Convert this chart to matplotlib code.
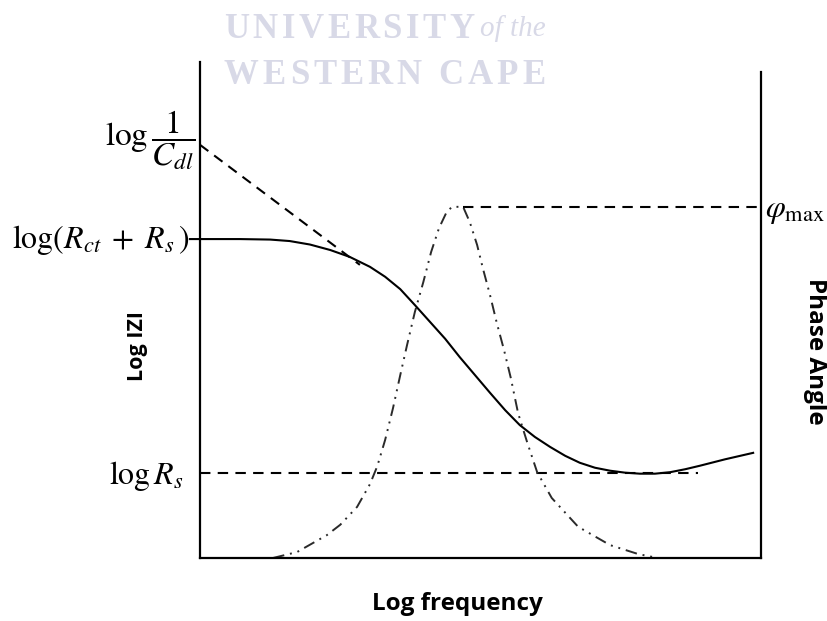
import matplotlib
matplotlib.use("Agg")
import matplotlib.pyplot as plt

plt.rcParams["mathtext.fontset"] = "stix"

# ── Schematic Bode curves (axis units 0-100 on both axes) ─────────────────────
mag_x = [-1.8, 7.1, 12.5, 16.0, 19.6, 23.2, 26.7, 30.3, 33.0, 35.7, 38.3,
         41.0, 43.7, 46.3, 49.0, 51.7, 54.4, 57.0, 59.7, 62.4, 65.1, 67.7,
         70.4, 73.1, 75.8, 78.4, 81.1, 83.8, 86.5, 89.1, 93.6, 98.6]
mag_y = [64.3, 64.3, 64.2, 63.9, 63.2, 62.1, 60.7, 58.7, 56.7, 54.2, 51.0,
         47.6, 44.2, 40.5, 36.9, 33.3, 29.8, 26.8, 24.4, 22.4, 20.6, 19.2,
         18.2, 17.6, 17.2, 17.0, 17.0, 17.3, 17.9, 18.6, 19.9, 21.2]

phase_x = [13.0, 17.3, 20.1, 22.6, 25.0, 28.0, 30.3, 31.6, 33.0, 34.4, 35.7,
           36.9, 38.3, 39.8, 41.2, 42.6, 43.9, 44.9, 46.9, 48.1, 49.4, 50.4,
           51.7, 52.9, 54.2, 55.4, 56.7, 58.3, 60.1, 62.7, 67.4, 73.1, 78.1,
           81.6]
phase_y = [0.0, 1.2, 3.0, 4.6, 6.7, 10.3, 14.9, 18.5, 23.8, 30.2, 36.9,
           42.9, 49.6, 55.6, 61.7, 66.5, 69.6, 70.8, 70.8, 67.7, 63.1, 58.5,
           53.0, 47.4, 41.9, 36.3, 29.2, 23.4, 17.3, 12.1, 6.3, 2.6, 0.8,
           0.0]

# asymptotes / reference levels
cdl_x, cdl_y = [0.0, 28.5], [83.3, 59.1]
rs_x, rs_level = [0.0, 88.8], 17.1
phimax_x, phimax_level = [46.9, 100.0], 70.8
rct_level = 64.1

fig = plt.figure(figsize=(8.27, 6.21), dpi=100, facecolor="white")
ax = fig.add_axes([200 / 827, 63 / 621, 561 / 827, 496 / 621])
ax.set_xlim(0, 100)
ax.set_ylim(0, 100)
ax.set_xticks([])
ax.set_yticks([])
ax.spines["top"].set_visible(False)
for sp in ("left", "right", "bottom"):
    ax.spines[sp].set_linewidth(1.6)
    ax.spines[sp].set_color("black")
ax.spines["right"].set_bounds(0, 98.0)

dash = (0, (5, 3.5))
ax.plot(mag_x, mag_y, color="black", lw=1.5, clip_on=False, zorder=4)
ax.plot(cdl_x, cdl_y, color="black", lw=1.5, ls=dash)
ax.plot(rs_x, [rs_level] * 2, color="black", lw=1.5, ls=dash)
ax.plot(phimax_x, [phimax_level] * 2, color="black", lw=1.5, ls=dash)
ax.plot(phase_x, phase_y, color="#2a2a2a", lw=1.4,
        ls=(0, (6, 3, 1, 3, 1, 3)))

# ── Level labels ──────────────────────────────────────────────────────────────
ax.text(-0.7, 84.3, r"$\log\dfrac{1}{C_{dl}}$", fontsize=24,
        ha="right", va="center", clip_on=False)
ax.text(-1.9, rct_level, r"$\log(R_{ct}\;+\;R_s\,)$", fontsize=23,
        ha="right", va="center", clip_on=False)
ax.text(-3.0, 16.5, r"$\log R_s$", fontsize=23,
        ha="right", va="center", clip_on=False)
ax.text(100.7, 70.0, r"$\varphi_{\max}$", fontsize=23,
        ha="left", va="center", clip_on=False)

lab = dict(family="Open Sans", fontweight="bold")
fig.text(138 / 827, 1 - 346 / 621, "Log IZI", rotation=90, fontsize=15.5,
         ha="center", va="center", **lab)
fig.text(815 / 827, 1 - 351 / 621, "Phase Angle", rotation=-90, fontsize=17.5,
         ha="center", va="center", **lab)
fig.text(457 / 827, 1 - 604 / 621, "Log frequency", fontsize=17.5,
         ha="center", va="center", **lab)


# ── Watermark (letter-spaced serif) ───────────────────────────────────────────
def spaced_text(x0, y0, s, tracking, **kw):
    """Draw s letter by letter starting at pixel x0, centred vertically on y0."""
    renderer = fig.canvas.get_renderer()
    x = x0
    for ch in s:
        t = fig.text(x / 827, 1 - y0 / 621, ch, ha="left", va="center", **kw)
        w = t.get_window_extent(renderer).width if ch != " " else kw["fontsize"] * 0.35
        x += w + tracking
    return x


wm_color = "#d8d9e7"
wm = dict(color=wm_color, family="Liberation Serif", fontweight="bold", fontsize=25)
x_end = spaced_text(224, 29, "UNIVERSITY", 3.6, **wm)
fig.text((x_end + 2) / 827, 1 - 29 / 621, "of the", color=wm_color,
         family="Liberation Serif", style="italic", fontsize=21,
         ha="left", va="center")
spaced_text(224, 76, "WESTERN CAPE", 4.0, **wm)

fig.savefig("out.png", dpi=100, facecolor="white")
